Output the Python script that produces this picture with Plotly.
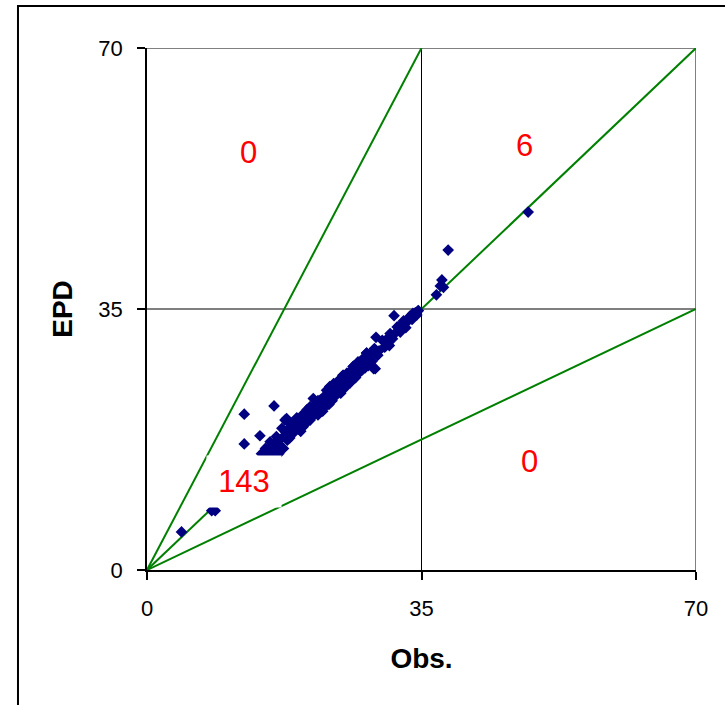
import plotly.graph_objects as go

# Observed values (Obs.) and predicted (EPD)
obs = [4.4, 8.25, 8.7, 12.4, 16.2, 12.4, 14.4, 15.1, 10.5, 12.0, 13.2, 14.0,
       31.5, 32.5, 32.3, 31.3, 29.2, 30.3, 29.4, 29.1, 28.0, 27.2, 26.3, 25.0, 25.5,
       34.6, 34.4, 34.0, 34.2, 33.8, 33.0,
       14.6, 15.0, 15.3, 15.6, 15.8, 16.0, 16.2, 16.5, 16.8, 16.6, 15.7, 16.5, 17.0, 17.2, 17.4, 17.2, 17.7, 17.9, 17.6, 17.8,
       18.0, 18.2, 18.4, 18.6, 18.8, 19.0, 19.1, 19.1, 19.3, 19.5, 19.7, 19.9, 19.9, 20.1, 20.3, 20.4, 20.6, 20.8, 20.8, 21.0,
       21.2, 21.2, 21.4, 21.6, 21.8, 21.8, 22.0, 22.1, 22.3, 22.5, 22.7, 22.7, 22.9, 23.0, 23.2, 23.3, 23.4, 23.6, 23.8, 23.9,
       24.0, 24.2, 24.3, 24.5, 24.6, 24.8, 25.0, 25.0, 25.2, 25.4, 25.5, 25.5, 25.7, 25.9, 26.0, 26.2, 26.3, 26.4, 26.6, 26.8,
       27.0, 27.0, 27.2, 27.4, 27.6, 27.8, 28.0, 28.0, 28.2, 28.5, 28.7, 28.9, 29.0, 29.4, 29.6,
       30.0, 30.4, 30.7, 31.0, 31.6, 31.9, 32.2, 32.7, 33.2, 33.5, 33.9, 34.5,
       19.6, 22.4, 24.7, 26.9, 30.9,
       48.6, 38.4, 37.6, 37.4, 37.8, 36.9]
epd = [5.1, 7.95, 7.95, 20.9, 22.0, 16.9, 18.0, 16.3, 10.8, 12.6, 13.0, 14.3,
       34.1, 33.0, 31.9, 31.0, 31.2, 29.9, 28.8, 27.0, 29.1, 27.9, 27.3, 26.1, 25.0,
       34.8, 34.2, 34.0, 34.5, 33.6, 32.5,
       15.6, 15.4, 16.1, 15.5, 16.4, 15.4, 16.2, 16.8, 15.6, 17.3, 17.2, 17.9, 16.6, 17.7, 16.3, 19.0, 18.5, 17.4, 20.1, 20.3,
       18.9, 17.7, 19.5, 18.3, 19.3, 20.1, 20.3, 20.4, 18.9, 20.0, 20.7, 20.3, 19.2, 20.9, 19.7, 21.5, 21.3, 21.9, 20.1, 20.7,
       23.0, 21.9, 20.9, 22.2, 20.8, 22.7, 21.5, 22.8, 22.5, 23.2, 21.9, 22.9, 24.1, 23.4, 22.2, 24.6, 23.8, 22.7, 25.0, 24.3,
       23.3, 24.4, 25.1, 24.1, 25.6, 24.3, 26.1, 25.5, 24.4, 25.9, 26.4, 25.0, 26.2, 25.1, 26.7, 25.6, 27.3, 26.9, 25.8, 27.2,
       27.7, 26.4, 27.9, 26.8, 28.4, 27.1, 29.1, 28.7, 27.4, 29.0, 28.0, 27.0, 29.7, 28.8, 29.4,
       30.8, 30.0, 31.1, 31.7, 31.7, 32.6, 32.4, 33.4, 33.3, 34.0, 34.4, 34.7,
       18.6, 21.3, 23.7, 27.9, 30.1,
       48.0, 42.9, 38.9, 38.1, 37.9, 36.9]

# Reference lines (ratio lines 2:1, 1:1, 1:2)
ref_x = [[0, 35], [0, 70], [0, 70]]
ref_y = [[0, 70], [0, 70], [0, 35]]

# Quadrant counts
count_text = ["0", "6", "0", "143"]
count_x = [12.9, 48.1, 48.8, 12.37]
count_y = [56.05, 56.9, 14.5, 11.87]

axis_ticks = [0, 35, 70]

FAM = "Liberation Sans, Arial"

fig = go.Figure()

for rx, ry in zip(ref_x, ref_y):
    fig.add_trace(go.Scatter(x=rx, y=ry, mode="lines",
                             line=dict(color="#008000", width=2),
                             hoverinfo="skip", showlegend=False))

fig.add_trace(go.Scatter(x=obs, y=epd, mode="markers",
                         marker=dict(symbol="diamond", size=9, color="#000080",
                                     line=dict(width=0)),
                         showlegend=False))

for t, ax_, ay_ in zip(count_text, count_x, count_y):
    big = t == "143"
    fig.add_annotation(x=ax_, y=ay_, xref="x", yref="y", text=t, showarrow=False,
                       font=dict(family=FAM, size=31, color="#FF0000"),
                       bgcolor="white" if big else "rgba(0,0,0,0)",
                       width=72 if big else None, height=49 if big else None,
                       borderpad=1)

shapes = [
    dict(type="line", xref="x", yref="y", x0=35, x1=35, y0=0, y1=70,
         line=dict(color="black", width=1), layer="below"),
    dict(type="line", xref="x", yref="y", x0=0, x1=70, y0=35, y1=35,
         line=dict(color="black", width=1), layer="below"),
    dict(type="line", xref="x", yref="y", x0=0, x1=70, y0=70, y1=70,
         line=dict(color="#808080", width=2), layer="below"),
    dict(type="line", xref="x", yref="y", x0=70, x1=70, y0=0, y1=70,
         line=dict(color="#808080", width=2), layer="below"),
    dict(type="rect", xref="paper", yref="paper", x0=-0.235, x1=1.07, y0=-0.28, y1=1.0805,
         line=dict(color="black", width=2), layer="below"),
]
fig.update_layout(shapes=shapes)

font = dict(family=FAM, size=22, color="black")
fig.update_xaxes(range=[0, 70], tickvals=axis_ticks, ticktext=[str(v) for v in axis_ticks],
                 showgrid=False, zeroline=False, showline=True, linecolor="black", linewidth=1.5,
                 ticks="outside", ticklen=8, tickcolor="black", tickwidth=1.5,
                 tickfont=font, ticklabelstandoff=10,
                 title=dict(text="<b>Obs.</b>", font=dict(family=FAM, size=28, color="black"),
                            standoff=28))
fig.update_yaxes(range=[0, 70], tickvals=axis_ticks, ticktext=[str(v) for v in axis_ticks],
                 showgrid=False, zeroline=False, showline=True, linecolor="black", linewidth=1.5,
                 ticks="outside", ticklen=8, tickcolor="black", tickwidth=1.5,
                 tickfont=font, ticklabelstandoff=10,
                 title=dict(text="<b>EPD</b>", font=dict(family=FAM, size=28, color="black"),
                            standoff=18))

fig.update_layout(width=725, height=705, autosize=False,
                  margin=dict(l=147, r=29, t=48, b=135, autoexpand=False),
                  paper_bgcolor="white", plot_bgcolor="white",
                  font=font)

fig.write_html("out.html")
